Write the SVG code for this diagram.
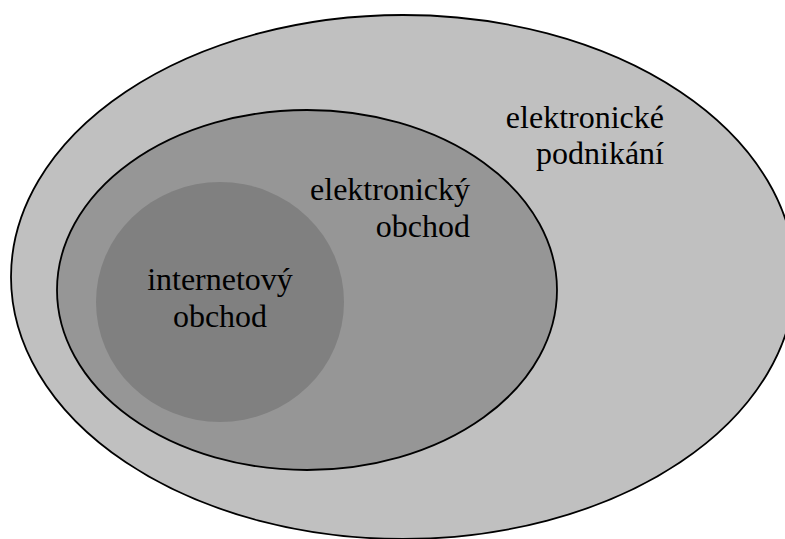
<svg xmlns="http://www.w3.org/2000/svg" width="785" height="539" viewBox="0 0 785 539">
  <style>
    .set { stroke: #000; stroke-width: 1.8; }
    .label { font-family: "Liberation Serif", "Times New Roman", serif; font-size: 32px; fill: #000; }
  </style>
  <rect width="785" height="539" fill="#fff"/>
  <!-- outer set: electronic business -->
  <g id="elektronicke-podnikani">
    <ellipse class="set" cx="403" cy="277" rx="392" ry="262" fill="#c0c0c0"/>
    <text class="label" text-anchor="end" x="664" y="128">elektronické</text>
    <text class="label" text-anchor="end" x="664" y="164">podnikání</text>
  </g>
  <!-- middle set: electronic commerce -->
  <g id="elektronicky-obchod">
    <ellipse class="set" cx="307" cy="290" rx="250" ry="180" fill="#969696"/>
    <text class="label" text-anchor="end" x="470" y="200">elektronický</text>
    <text class="label" text-anchor="end" x="470" y="237">obchod</text>
  </g>
  <!-- inner set: internet shop -->
  <g id="internetovy-obchod">
    <ellipse cx="220" cy="302" rx="124" ry="120" fill="#808080"/>
    <text class="label" text-anchor="middle" x="220" y="290">internetový</text>
    <text class="label" text-anchor="middle" x="220" y="327">obchod</text>
  </g>
  <g id="connectors"/>
</svg>
